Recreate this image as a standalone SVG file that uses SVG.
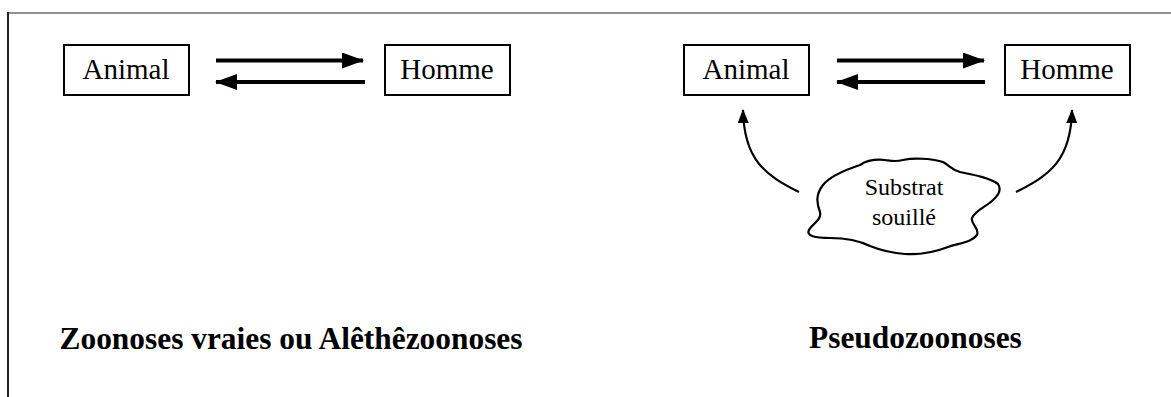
<svg xmlns="http://www.w3.org/2000/svg" width="1171" height="397" viewBox="0 0 1171 397">
<style>
.box{fill:#fff;stroke:#000;stroke-width:2}
.lbl{font-family:"Liberation Serif","Times New Roman",serif;font-size:29px;fill:#000;text-anchor:middle}
.cl{font-family:"Liberation Serif","Times New Roman",serif;font-size:24px;fill:#000;text-anchor:middle}
.title{font-family:"Liberation Serif","Times New Roman",serif;font-size:31.4px;font-weight:bold;fill:#000}
.thick{stroke:#000;stroke-width:4;fill:none}
.thin{stroke:#000;stroke-width:2.2;fill:none}
</style>
<defs>
<marker id="big" markerUnits="userSpaceOnUse" markerWidth="22" markerHeight="16" refX="21" refY="8" orient="auto">
<path d="M0,0 L22,8 L0,16 Z" fill="#000"/>
</marker>
<marker id="small" markerUnits="userSpaceOnUse" markerWidth="14" markerHeight="11" refX="13" refY="5.5" orient="auto">
<path d="M0,0 L14,5.5 L0,11 Z" fill="#000"/>
</marker>
</defs>
<rect width="1171" height="397" fill="#fff"/>
<line x1="8" y1="13" x2="1171" y2="13" stroke="#909090" stroke-width="2"/>
<line x1="8" y1="12" x2="8" y2="397" stroke="#222" stroke-width="2"/>

<g id="animal-left"><rect class="box" x="64" y="45" width="125" height="50"/><text class="lbl" x="126" y="79">Animal</text></g>
<g id="homme-left"><rect class="box" x="385" y="45" width="125" height="50"/><text class="lbl" x="447" y="79">Homme</text></g>
<g id="animal-right"><rect class="box" x="684" y="45" width="125" height="50"/><text class="lbl" x="746" y="79">Animal</text></g>
<g id="homme-right"><rect class="box" x="1005" y="45" width="125" height="50"/><text class="lbl" x="1067" y="79">Homme</text></g>

<g id="substrat">
<path class="thin" d="M823,185 C830,176 845,170 860,165 C866,161 875,159 885,160 C892,161 895,162 903,160 C912,158 930,158 943,162 C950,166 952,170 960,172 C975,175 990,178 998,184 C1002,190 998,196 992,201 C985,207 975,211 972,218 C970,224 980,228 977,235 C972,242 960,243 948,247 C935,252 920,255 905,254 C890,253 880,250 870,246 C860,241 845,238 830,238 C815,238 806,236 809,230 C812,224 822,220 820,212 C817,204 815,195 823,185 Z"/>
<text class="cl" x="904" y="195">Substrat</text>
<text class="cl" x="904" y="225">souillé</text>
</g>

<g id="connectors">
<line class="thick" x1="216" y1="60.5" x2="363" y2="60.5" marker-end="url(#big)"/>
<line class="thick" x1="365" y1="82" x2="216" y2="82" marker-end="url(#big)"/>
<line class="thick" x1="837" y1="60.5" x2="984" y2="60.5" marker-end="url(#big)"/>
<line class="thick" x1="985" y1="82" x2="837" y2="82" marker-end="url(#big)"/>
<path class="thin" d="M799,192 C765,175 744,160 743,110" marker-end="url(#small)"/>
<path class="thin" d="M1016,192 C1050,175 1071,160 1072,110" marker-end="url(#small)"/>
</g>

<text class="title" x="59.5" y="349">Zoonoses vraies ou Alêthêzoonoses</text>
<text class="title" x="809" y="348">Pseudozoonoses</text>
</svg>
